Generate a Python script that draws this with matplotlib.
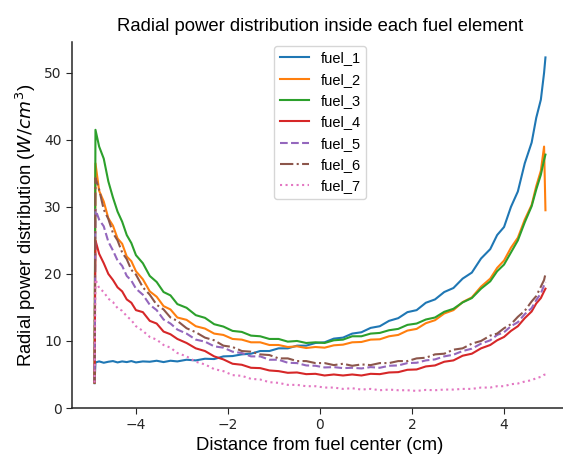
import matplotlib
matplotlib.use("Agg")
import matplotlib.pyplot as plt

x_cm = [-4.90, -4.88, -4.80, -4.70, -4.60, -4.50, -4.40, -4.30, -4.20, -4.10, -4.00,
        -3.85, -3.70, -3.55, -3.40, -3.25, -3.10, -2.90, -2.70, -2.50, -2.30, -2.10,
        -1.90, -1.70, -1.50, -1.30, -1.10, -0.90, -0.70, -0.50, -0.30, -0.10, 0.10,
        0.30, 0.50, 0.70, 0.90, 1.10, 1.30, 1.50, 1.70, 1.90, 2.10, 2.30, 2.50, 2.70,
        2.90, 3.10, 3.30, 3.50, 3.70, 3.85, 4.00, 4.15, 4.30, 4.45, 4.60, 4.70, 4.80,
        4.87, 4.90]

fuel_1 = [3.7, 6.8, 6.95, 6.75, 6.9, 7.0, 6.8, 6.95, 6.85, 7.0, 6.8, 6.95, 6.9, 7.05,
          6.85, 7.05, 6.95, 7.2, 7.1, 7.35, 7.3, 7.7, 7.75, 8.0, 8.1, 8.5, 8.5, 8.9, 8.9,
          9.3, 9.3, 9.7, 9.8, 10.35, 10.5, 11.1, 11.3, 11.95, 12.2, 13.0, 13.4, 14.3,
          14.6, 15.7, 16.2, 17.3, 17.9, 19.3, 20.2, 22.3, 23.7, 25.8, 27.0, 30.0, 32.3,
          36.5, 39.6, 43.3, 46.0, 50.0, 52.3]
fuel_2 = [3.8, 36.5, 32.4, 30.8, 28.3, 27.2, 25.3, 24.5, 22.6, 21.9, 20.4, 19.2, 17.4,
          16.6, 15.2, 14.7, 13.5, 13.15, 12.2, 11.85, 11.1, 10.9, 10.3, 10.2, 9.8, 9.8,
          9.4, 9.4, 9.1, 9.2, 8.95, 9.1, 9.0, 9.35, 9.45, 9.8, 9.85, 10.2, 10.25, 10.7,
          10.9, 11.55, 11.8, 12.65, 13.1, 14.1, 14.6, 15.8, 16.5, 18.1, 19.3, 20.9, 22.0,
          23.9, 25.4, 28.1, 30.3, 33.1, 35.4, 39.0, 29.5]
fuel_3 = [3.8, 41.5, 39.0, 37.2, 33.8, 31.4, 29.3, 27.8, 25.8, 24.6, 22.8, 21.6, 19.7,
          18.8, 17.3, 16.8, 15.5, 14.95, 13.85, 13.45, 12.5, 12.15, 11.5, 11.35, 10.8,
          10.7, 10.3, 10.3, 9.9, 10.0, 9.7, 9.8, 9.7, 10.1, 10.2, 10.7, 10.7, 11.1, 11.2,
          11.6, 11.8, 12.4, 12.6, 13.2, 13.5, 14.35, 14.8, 15.75, 16.4, 17.8, 18.9, 20.4,
          21.4, 23.2, 25.0, 27.7, 30.1, 32.6, 34.8, 37.0, 37.8]
fuel_4 = [3.8, 25.0, 23.0, 21.6, 20.0, 19.1, 18.0, 17.4, 16.2, 15.7, 14.6, 14.3, 13.0,
          12.6, 11.4, 11.0, 10.3, 9.7, 8.9, 8.5, 7.7, 7.25, 6.6, 6.45, 6.0, 5.95, 5.6,
          5.5, 5.25, 5.3, 5.05, 5.1, 4.85, 5.0, 4.85, 5.0, 4.85, 5.1, 5.05, 5.3, 5.35,
          5.7, 5.75, 6.2, 6.35, 6.9, 7.1, 7.8, 8.1, 8.9, 9.4, 10.1, 10.6, 11.5, 12.2,
          13.4, 14.4, 15.6, 16.4, 17.4, 17.8]
fuel_5 = [3.8, 29.6, 28.1, 27.1, 24.8, 23.5, 22.0, 21.2, 19.7, 19.0, 17.8, 16.9, 15.4,
          14.6, 13.2, 12.6, 11.7, 11.1, 10.2, 9.9, 9.2, 9.0, 8.4, 8.2, 7.7, 7.7, 7.2, 7.2,
          6.75, 6.7, 6.35, 6.3, 6.05, 6.1, 5.95, 6.0, 5.9, 6.1, 6.0, 6.3, 6.35, 6.7, 6.75,
          7.1, 7.25, 7.7, 7.95, 8.5, 8.85, 9.6, 10.1, 10.9, 11.3, 12.2, 12.8, 14.0, 14.9,
          16.1, 17.1, 18.3, 18.8]
fuel_6 = [3.8, 34.3, 32.6, 29.6, 28.2, 26.1, 25.0, 23.2, 22.2, 20.6, 19.9, 18.0, 16.9,
          15.4, 14.7, 13.5, 13.0, 11.9, 11.3, 10.5, 10.1, 9.3, 9.1, 8.5, 8.4, 8.0, 7.9,
          7.4, 7.4, 7.0, 7.0, 6.7, 6.7, 6.4, 6.6, 6.3, 6.5, 6.4, 6.7, 6.7, 7.0, 7.0, 7.4,
          7.5, 8.0, 8.1, 8.7, 8.9, 9.6, 10.0, 10.8, 11.1, 11.9, 12.5, 13.6, 14.5, 15.9,
          16.7, 18.1, 19.1, 20.0]
fuel_7 = [3.8, 19.2, 17.9, 17.3, 16.3, 15.8, 14.9, 14.5, 13.7, 13.1, 12.2, 11.5, 10.6,
          10.2, 9.4, 9.0, 8.2, 7.7, 6.9, 6.5, 5.8, 5.5, 4.9, 4.8, 4.35, 4.25, 3.85, 3.75,
          3.45, 3.45, 3.25, 3.25, 3.05, 3.05, 2.85, 2.95, 2.75, 2.85, 2.65, 2.75, 2.65,
          2.65, 2.55, 2.7, 2.65, 2.75, 2.75, 2.85, 2.85, 3.05, 3.05, 3.25, 3.25, 3.55,
          3.65, 3.95, 4.15, 4.45, 4.65, 4.95, 5.0]

labels = ["fuel_1", "fuel_2", "fuel_3", "fuel_4", "fuel_5", "fuel_6", "fuel_7"]
series = [fuel_1, fuel_2, fuel_3, fuel_4, fuel_5, fuel_6, fuel_7]
styles = ["-", "-", "-", "-", "--", "-.", ":"]
colors = ["#1f77b4", "#ff7f0e", "#2ca02c", "#d62728", "#9467bd", "#8c564b", "#e377c2"]

TXT = ["Liberation Sans", "DejaVu Sans"]

fig = plt.figure(figsize=(5.63, 4.59), dpi=100)
ax = fig.add_axes([72 / 563, 51 / 459, 496 / 563, 366 / 459])

for lab, ys, ls, c in zip(labels, series, styles, colors):
    ax.plot(x_cm, ys, ls, color=c, lw=1.5, label=lab)

ax.set_xlim(-5.39, 5.39)
ax.set_ylim(0, 54.6)
ax.set_xticks([-4, -2, 0, 2, 4])
ax.set_yticks([0, 10, 20, 30, 40, 50])
for s in ["top", "right"]:
    ax.spines[s].set_visible(False)
for s in ["left", "bottom"]:
    ax.spines[s].set_color("0.15")
    ax.spines[s].set_linewidth(1.1)
ax.tick_params(colors="0.15", labelsize=10, length=4)

ax.set_title("Radial power distribution inside each fuel element", fontsize=13.3,
             family=TXT, pad=8)
ax.set_xlabel("Distance from fuel center (cm)", fontsize=13.3, family=TXT, labelpad=3)
ax.set_ylabel("Radial power distribution ($W/cm^3$)", fontsize=13.3, family=TXT)
ax.legend(loc="upper center", prop={"family": TXT, "size": 10.5},
          borderaxespad=0.25, labelspacing=0.5, handlelength=2.0)

fig.savefig("out.png", dpi=100)
